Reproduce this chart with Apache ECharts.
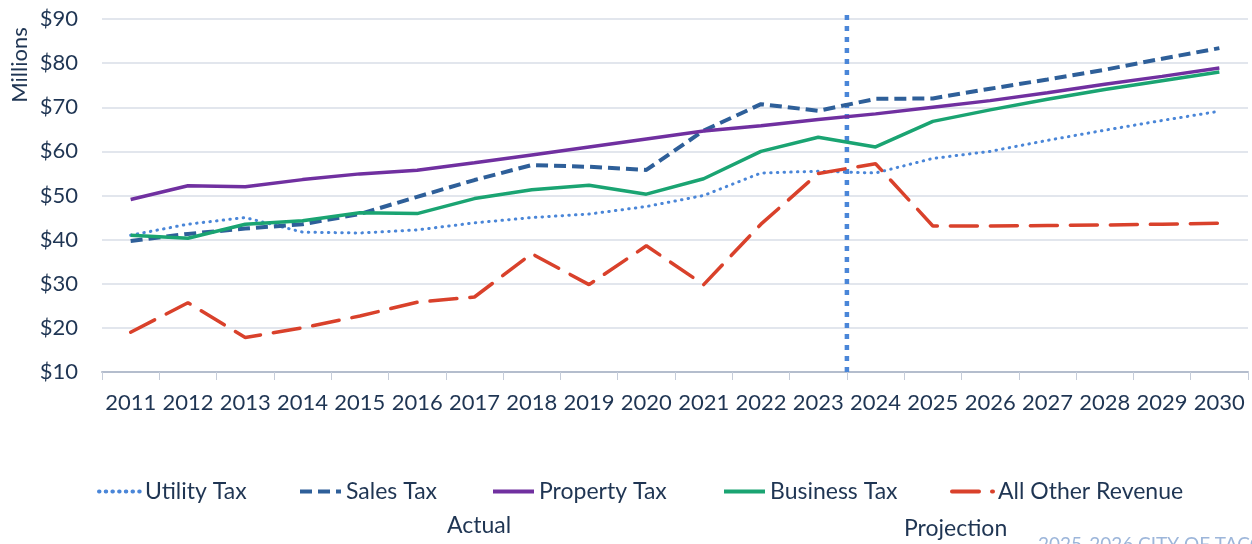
<!DOCTYPE html>
<html>
<head>
<meta charset="utf-8">
<script src="https://cdn.jsdelivr.net/npm/echarts@6/dist/echarts.min.js"></script>
<style>
  html, body { margin: 0; padding: 0; background: #fff; }
  #main { width: 1252px; height: 544px; }
</style>
</head>
<body>
<div id="main"></div>
<script>
// years on the x axis
var years = ['2011','2012','2013','2014','2015','2016','2017','2018','2019','2020',
  '2021','2022','2023','2024','2025','2026','2027','2028','2029','2030'];

// revenue, millions of dollars
var utilityTax  = [41.0, 43.5, 45.0, 41.7, 41.5, 42.2, 43.8, 45.0, 45.8, 47.5, 50.0, 55.1, 55.5, 55.1, 58.4, 60.0, 62.5, 64.8, 67.0, 69.1];
var salesTax    = [39.7, 41.3, 42.5, 43.5, 45.8, 49.7, 53.5, 56.9, 56.5, 55.8, 64.7, 70.7, 69.2, 71.9, 72.0, 74.2, 76.3, 78.5, 81.0, 83.4];
var propertyTax = [49.1, 52.2, 52.0, 53.6, 54.9, 55.7, 57.4, 59.2, 61.0, 62.8, 64.6, 65.8, 67.2, 68.5, 70.0, 71.5, 73.3, 75.2, 77.0, 78.9];
var businessTax = [41.0, 40.3, 43.5, 44.3, 46.1, 45.9, 49.3, 51.3, 52.3, 50.3, 53.8, 60.0, 63.2, 61.0, 66.8, 69.4, 71.8, 74.0, 76.0, 78.0];
var otherRev    = [19.0, 25.7, 17.8, 20.0, 22.7, 25.8, 27.0, 36.8, 29.8, 38.6, 29.8, 43.5, 55.0, 57.2, 43.1, 43.1, 43.2, 43.3, 43.5, 43.7];

var seriesNames = ['Utility Tax', 'Sales Tax', 'Property Tax', 'Business Tax', 'All Other Revenue'];

// actual / projection divider: boundary index on the category axis, and its y span
var splitAt = 13;
var splitSpan = [10, 91.6];

var font = 'Lato, "Open Sans", sans-serif';
var navy = '#1f3553';

var chart = echarts.init(document.getElementById('main'));

// one legend per entry so each sits where the original put it
var legendLeft = [97, 298, 491, 722, 950];
var legends = seriesNames.map(function (name, i) {
  return {
    left: legendLeft[i],
    top: 480,
    padding: 0,
    itemWidth: 41,
    itemHeight: 14,
    itemStyle: { opacity: 0 },   // line only, no marker in the key
    lineStyle: { width: 4 },
    textStyle: { fontFamily: font, fontSize: 23, color: navy },
    data: [name]
  };
});

var option = {
  animation: false,
  grid: { left: 102, right: 4, top: 19, bottom: 172 },
  legend: legends,
  xAxis: [
    {
      type: 'category',
      data: years,
      boundaryGap: true,
      axisLine: { lineStyle: { color: '#b4bdcd', width: 2 } },
      axisTick: { show: true, length: 8, lineStyle: { color: '#c5ccd9' } },
      axisLabel: { fontFamily: font, fontSize: 22, color: navy, margin: 20, interval: 0 }
    },
    {
      type: 'value',
      min: 0,
      max: years.length,
      show: false
    }
  ],
  yAxis: {
    type: 'value',
    min: 10,
    max: 90,
    interval: 10,
    axisLine: { show: false },
    axisTick: { show: false },
    axisLabel: { fontFamily: font, fontSize: 22, color: navy, margin: 24, formatter: '${value}' },
    splitLine: { lineStyle: { color: '#d9dee7', width: 1.5 } }
  },
  series: [
    {
      name: 'Utility Tax', type: 'line', data: utilityTax, symbol: 'none',
      lineStyle: { color: '#4a86d8', width: 3, type: [0.5, 6.2], cap: 'round' },
      itemStyle: { color: '#4a86d8' }
    },
    {
      name: 'Sales Tax', type: 'line', data: salesTax, symbol: 'none',
      lineStyle: { color: '#2e5f99', width: 4, type: [12, 6] },
      itemStyle: { color: '#2e5f99' }
    },
    {
      name: 'Property Tax', type: 'line', data: propertyTax, symbol: 'none',
      lineStyle: { color: '#7030a0', width: 3.5 },
      itemStyle: { color: '#7030a0' }
    },
    {
      name: 'Business Tax', type: 'line', data: businessTax, symbol: 'none',
      lineStyle: { color: '#1aa472', width: 3.5 },
      itemStyle: { color: '#1aa472' }
    },
    {
      name: 'All Other Revenue', type: 'line', data: otherRev, symbol: 'none',
      lineStyle: { color: '#d9412b', width: 3.5, type: [27, 13], cap: 'round' },
      itemStyle: { color: '#d9412b' }
    },
    {
      name: 'split', type: 'line', xAxisIndex: 1, symbol: 'none', clip: false, silent: true,
      data: [[splitAt, splitSpan[0]], [splitAt, splitSpan[1]]],
      lineStyle: { color: '#4a86d8', width: 4.5, type: [5, 6] },
      z: 1
    }
  ],
  graphic: [
    { type: 'text', x: 20, y: 65, rotation: Math.PI / 2,
      style: { text: 'Millions', font: '22px ' + font, fill: navy, align: 'center', verticalAlign: 'middle' } },
    { type: 'text', left: 447, top: 514, style: { text: 'Actual', font: '23px ' + font, fill: navy } },
    { type: 'text', left: 904, top: 517, style: { text: 'Projection', font: '23px ' + font, fill: navy } },
    { type: 'text', left: 1038, top: 535, style: { text: '2025-2026 CITY OF TACOMA', font: '19px ' + font, fill: '#9db6da' } }
  ]
};

chart.setOption(option);
</script>
</body>
</html>
